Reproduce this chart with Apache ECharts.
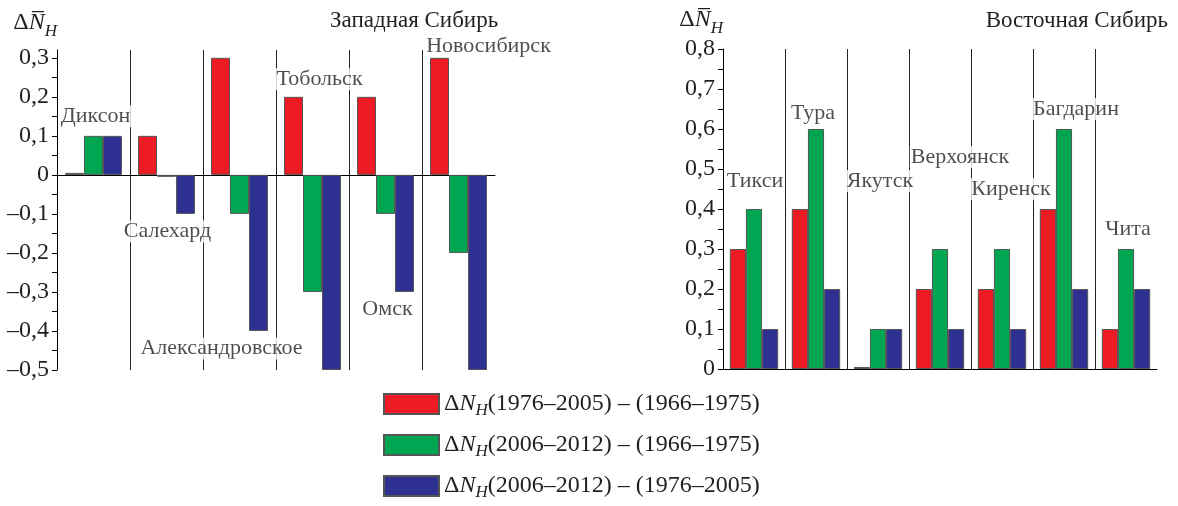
<!DOCTYPE html>
<html>
<head>
<meta charset="utf-8">
<script src="https://cdn.jsdelivr.net/npm/echarts@6/dist/echarts.min.js"></script>
<style>
  html, body { margin: 0; padding: 0; background: #fff; }
  #chart { width: 1178px; height: 506px; }
</style>
</head>
<body>
<div id="chart"></div>
<script>
// Западная Сибирь
const westCats = ['Диксон', 'Салехард', 'Александровское', 'Тобольск', 'Омск', 'Новосибирск'];
const westRed = [0.005, 0.1, 0.3, 0.2, 0.2, 0.3];
const westGreen = [0.1, -0.005, -0.1, -0.3, -0.1, -0.2];
const westBlue = [0.1, -0.1, -0.4, -0.5, -0.3, -0.5];
const westTicks = [-0.5, -0.4, -0.3, -0.2, -0.1, 0, 0.1, 0.2, 0.3];

// Восточная Сибирь
const eastCats = ['Тикси', 'Тура', 'Якутск', 'Верхоянск', 'Киренск', 'Багдарин', 'Чита'];
const eastRed = [0.3, 0.4, 0.005, 0.2, 0.2, 0.4, 0.1];
const eastGreen = [0.4, 0.6, 0.1, 0.3, 0.3, 0.6, 0.3];
const eastBlue = [0.1, 0.2, 0.1, 0.1, 0.1, 0.2, 0.2];
const eastTicks = [0, 0.1, 0.2, 0.3, 0.4, 0.5, 0.6, 0.7, 0.8];

const periods = ['(1976–2005) – (1966–1975)', '(2006–2012) – (1966–1975)', '(2006–2012) – (1976–2005)'];
const colors = ['#ed1c24', '#00a651', '#2e3192'];

// where the station names sit (value on y axis, px shift along x)
const westLabelY = [0.15, -0.145, -0.445, 0.245, -0.345, 0.33];
const westLabelDx = [2, 1, -18, 7, 2, 30];
const eastLabelY = [0.47, 0.64, 0.47, 0.53, 0.45, 0.65, 0.35];
const eastLabelDx = [1, -3, 2, 20, 9, 12, 2];

const FONT = "'Liberation Serif', 'Times New Roman', serif";
const TXT = '#231f20';

const fmt = v => v === 0 ? '0' : (v < 0 ? '–' : '') + Math.abs(v).toFixed(1).replace('.', ',');
const halfSteps = t => t.flatMap((v, i) => i ? [(v + t[i - 1]) / 2, v] : [v]);

const nameRich = {
  d: { fontFamily: FONT, fontSize: 24, color: TXT, lineHeight: 34 },
  n: { fontFamily: FONT, fontSize: 24, fontStyle: 'italic', color: TXT, lineHeight: 34 },
  h: { fontFamily: FONT, fontSize: 17, fontStyle: 'italic', color: TXT, lineHeight: 20, verticalAlign: 'bottom' }
};

function yAxis(gridIndex, ticks, max) {
  return {
    type: 'value', gridIndex,
    min: ticks[0], max, interval: 0.1,
    name: '{d|Δ}{n|N\u0305}{h|H}',
    nameLocation: 'end', nameGap: 10,
    nameTextStyle: { align: 'right', rich: nameRich },
    axisLine: { show: true, onZero: false, lineStyle: { color: '#000', width: 1 } },
    axisTick: { show: true, length: 5, customValues: halfSteps(ticks), lineStyle: { color: '#000' } },
    axisLabel: {
      customValues: ticks, margin: 8,
      fontFamily: FONT, fontSize: 24, color: TXT,
      formatter: fmt
    },
    splitLine: { show: false }
  };
}

function xAxis(gridIndex, cats) {
  return {
    type: 'category', gridIndex, data: cats,
    axisLine: { show: true, onZero: true, lineStyle: { color: '#000', width: 1 } },
    axisTick: { show: false },
    axisLabel: { show: false },
    splitLine: {
      show: true, interval: 0, showMinLine: false, showMaxLine: false,
      lineStyle: { color: '#222', width: 1 }
    }
  };
}

function bars(idx, data, i) {
  return {
    name: 'ΔN_H' + periods[i], type: 'bar',
    xAxisIndex: idx, yAxisIndex: idx,
    data, barWidth: '26%', barGap: '0%',
    itemStyle: { color: colors[i], borderColor: '#555', borderWidth: 1 }
  };
}

function stationLabels(idx, cats, ys, dxs) {
  return {
    type: 'scatter', xAxisIndex: idx, yAxisIndex: idx,
    symbolSize: 0, silent: true, clip: false, z: 5,
    data: cats.map((c, i) => ({ name: c, value: [c, ys[i]], label: { offset: [dxs[i], 0] } })),
    label: {
      show: true, position: 'inside', formatter: '{b}',
      fontFamily: FONT, fontSize: 22, color: TXT,
      backgroundColor: '#fff', padding: [0, 1]
    }
  };
}

const option = {
  animation: false,
  backgroundColor: '#fff',
  title: [
    { text: 'Западная Сибирь', left: 325, top: 4, textStyle: { fontFamily: FONT, fontSize: 23, fontWeight: 'normal', color: TXT } },
    { text: 'Восточная Сибирь', right: 5, top: 4, textStyle: { fontFamily: FONT, fontSize: 23, fontWeight: 'normal', color: TXT } }
  ],
  legend: {
    orient: 'vertical', left: 378, top: 387,
    itemWidth: 55, itemHeight: 20, itemGap: 14,
    icon: 'rect',
    data: periods.map(p => 'ΔN_H' + p),
    formatter: name => '{d|Δ}{n|N}{h|H}{t|' + name.slice(4) + '}',
    textStyle: {
      rich: {
        d: { fontFamily: FONT, fontSize: 24, color: TXT, lineHeight: 30 },
        n: { fontFamily: FONT, fontSize: 24, fontStyle: 'italic', color: TXT, lineHeight: 30 },
        h: { fontFamily: FONT, fontSize: 17, fontStyle: 'italic', color: TXT, lineHeight: 18, verticalAlign: 'bottom' },
        t: { fontFamily: FONT, fontSize: 24, color: TXT, lineHeight: 30 }
      }
    }
  },
  grid: [
    { left: 57, top: 50, width: 438, height: 320 },
    { left: 723, top: 49, width: 434, height: 320 }
  ],
  xAxis: [xAxis(0, westCats), xAxis(1, eastCats)],
  yAxis: [yAxis(0, westTicks, 0.32), yAxis(1, eastTicks, 0.8)],
  series: [
    bars(0, westRed, 0), bars(0, westGreen, 1), bars(0, westBlue, 2),
    bars(1, eastRed, 0), bars(1, eastGreen, 1), bars(1, eastBlue, 2),
    stationLabels(0, westCats, westLabelY, westLabelDx),
    stationLabels(1, eastCats, eastLabelY, eastLabelDx)
  ]
};

const myChart = echarts.init(document.getElementById('chart'));
myChart.setOption(option);
</script>
</body>
</html>
